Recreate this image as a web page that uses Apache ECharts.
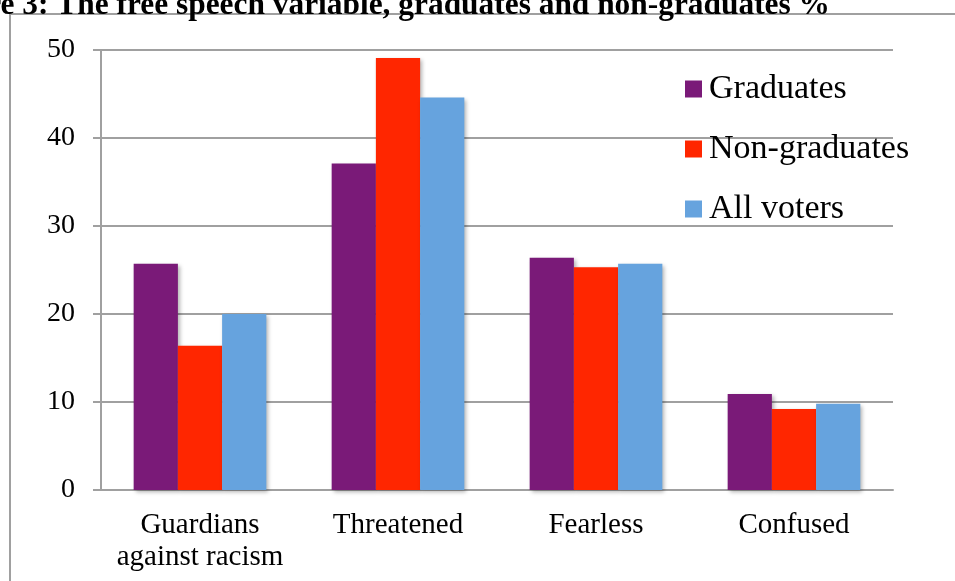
<!DOCTYPE html>
<html>
<head>
<meta charset="utf-8">
<script src="https://cdn.jsdelivr.net/npm/echarts@6/dist/echarts.min.js"></script>
<style>
  html, body { margin: 0; padding: 0; background: #fff; }
  #main { width: 955px; height: 581px; }
</style>
</head>
<body>
<div id="main"></div>
<script>
var categories = ['Guardians\nagainst racism', 'Threatened', 'Fearless', 'Confused'];
var graduates = [25.7, 37.1, 26.4, 10.9];
var nonGraduates = [16.4, 49.1, 25.3, 9.2];
var allVoters = [20.0, 44.6, 25.7, 9.8];
var yTicks = [0, 10, 20, 30, 40, 50];

var serif = '"Liberation Serif", "DejaVu Serif", serif';
var gridGrey = '#a0a0a0';
var barShadow = {
    shadowColor: 'rgba(0,0,0,0.3)',
    shadowBlur: 4,
    shadowOffsetX: 2,
    shadowOffsetY: 2
};

var myChart = echarts.init(document.getElementById('main'));

function makeSeries(name, color, data) {
    return {
        name: name,
        type: 'bar',
        barGap: '0%',
        barCategoryGap: '33%',
        itemStyle: Object.assign({ color: color }, barShadow),
        data: data
    };
}

var option = {
    animation: false,
    backgroundColor: '#fff',
    graphic: [
        {
            type: 'rect',
            shape: { x: 10, y: 14, width: 1000, height: 700 },
            style: { fill: 'none', stroke: gridGrey, lineWidth: 2 }
        },
        {
            type: 'text',
            x: 830,
            y: 21,
            style: {
                text: 'Figure 3: The free speech variable, graduates and non-graduates %',
                font: 'bold 31.4px ' + serif,
                fill: '#000',
                textAlign: 'right',
                textVerticalAlign: 'bottom'
            }
        }
    ],
    grid: {
        left: 101,
        top: 50,
        width: 792,
        height: 440
    },
    legend: {
        orient: 'vertical',
        left: 680,
        top: 67,
        itemWidth: 17,
        itemHeight: 17,
        itemGap: 26,
        icon: 'rect',
        textStyle: {
            fontFamily: serif,
            fontSize: 34,
            color: '#000',
            padding: [0, 0, 0, 2]
        },
        data: ['Graduates', 'Non-graduates', 'All voters']
    },
    xAxis: {
        type: 'category',
        data: categories,
        axisLine: { lineStyle: { color: gridGrey, width: 2 } },
        axisTick: { length: 8, lineStyle: { color: gridGrey, width: 2 } },
        axisLabel: {
            interval: 0,
            margin: 19,
            fontFamily: serif,
            fontSize: 29,
            lineHeight: 32,
            color: '#000'
        }
    },
    yAxis: {
        type: 'value',
        min: yTicks[0],
        max: yTicks[yTicks.length - 1],
        interval: 10,
        axisLine: { show: true, lineStyle: { color: gridGrey, width: 2 } },
        axisTick: { show: true, length: 8, lineStyle: { color: gridGrey, width: 2 } },
        splitLine: { lineStyle: { color: gridGrey, width: 2 } },
        axisLabel: {
            margin: 26,
            fontFamily: serif,
            fontSize: 28,
            color: '#000'
        }
    },
    series: [
        makeSeries('Graduates', '#7a1a78', graduates),
        makeSeries('Non-graduates', '#ff2600', nonGraduates),
        makeSeries('All voters', '#66a3de', allVoters)
    ]
};

myChart.setOption(option);
</script>
</body>
</html>
